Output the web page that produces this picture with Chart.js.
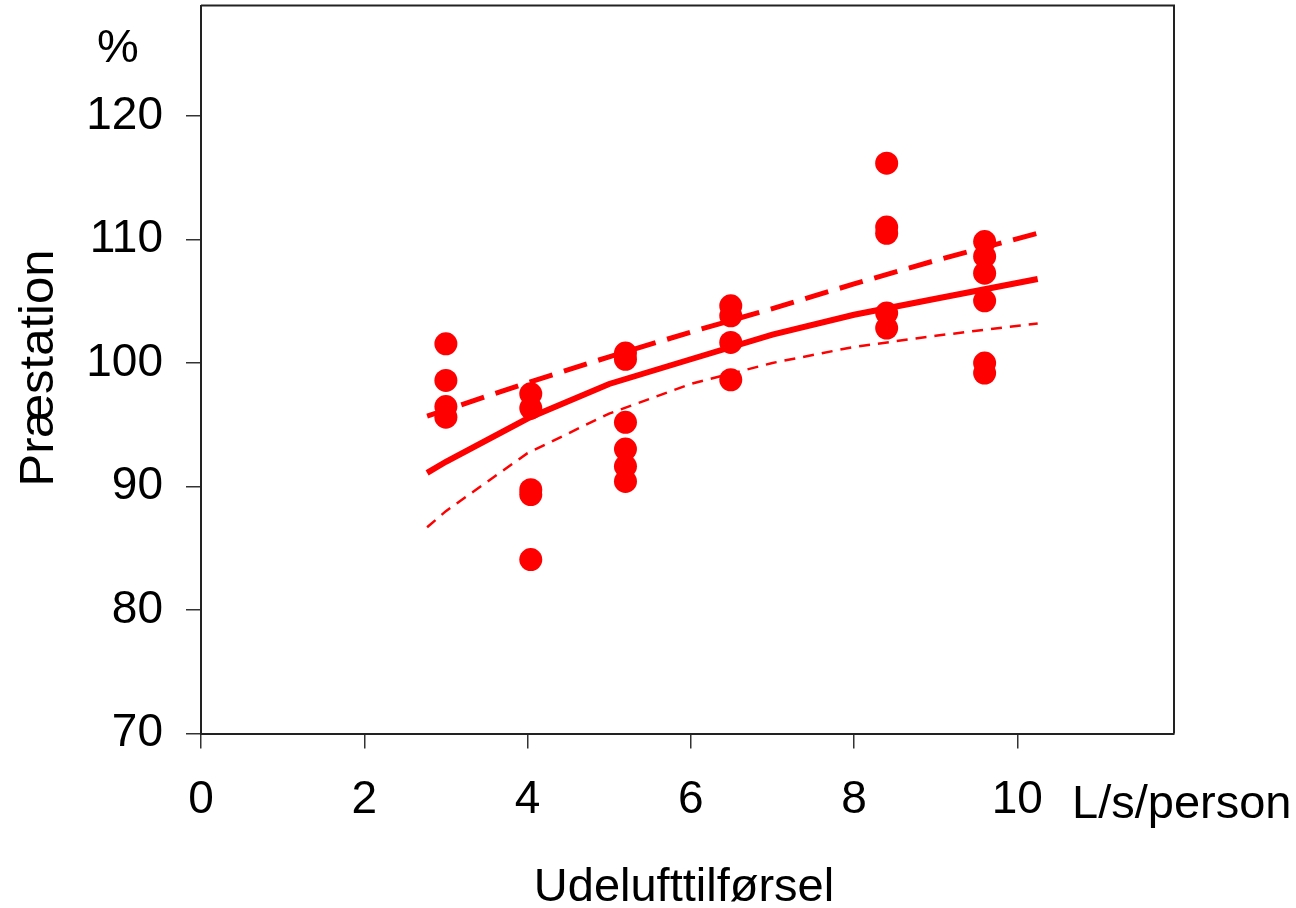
<!DOCTYPE html>
<html>
<head>
<meta charset="utf-8">
<script src="https://cdn.jsdelivr.net/npm/chart.js@4/dist/chart.umd.min.js"></script>
<style>
    html, body { margin: 0; padding: 0; background: #fff; }
    #wrap { width: 1296px; height: 908px; }
</style>
</head>
<body>
<div id="wrap"><canvas id="chart" width="1296" height="908"></canvas></div>
<script>
// measured points: airflow level (L/s/person) and performance (%) per level
const airflow = [3.0, 4.04, 5.2, 6.49, 8.4, 9.6]
const performance = [
    [101.55, 98.58, 96.47, 95.61],
    [97.5, 96.35, 89.74, 89.34, 84.08],
    [100.8, 100.3, 95.19, 93.03, 91.63, 90.41],
    [104.63, 103.82, 101.66, 98.64],
    [116.17, 111.0, 110.5, 104.04, 102.82],
    [109.83, 108.62, 107.27, 105.03, 99.99, 99.18]
]

// fitted curve and its bands
const fitX = [2.77, 3, 4, 5, 6, 7, 8, 9, 10.25]
const fitMean = [91.1, 92.0, 95.5, 98.3, 100.3, 102.3, 103.9, 105.2, 106.8]
const fitUpper = [95.7, 96.2, 98.4, 100.5, 102.5, 104.4, 106.4, 108.3, 110.5]
const fitLower = [86.7, 88.0, 92.7, 95.9, 98.3, 100.0, 101.3, 102.2, 103.2]

const xTicks = [0, 2, 4, 6, 8, 10]
const yTicks = [70, 80, 90, 100, 110, 120]

const red = '#ff0000'
const font = '"Liberation Sans", Arial, sans-serif'

const points = []
airflow.forEach((x, i) => performance[i].forEach(y => points.push({x, y})))
const toXY = ys => fitX.map((x, i) => ({x, y: ys[i]}))

const frame = {
    id: 'frame',
    afterDraw(chart) {
        const {ctx, chartArea: a} = chart
        ctx.save()
        ctx.strokeStyle = '#222'
        ctx.lineWidth = 2
        ctx.beginPath()
        ctx.moveTo(a.left, a.top)
        ctx.lineTo(a.right, a.top)
        ctx.lineTo(a.right, a.bottom)
        ctx.stroke()

        ctx.fillStyle = '#000'
        ctx.font = '47px ' + font
        ctx.textBaseline = 'alphabetic'
        ctx.textAlign = 'center'
        ctx.fillText('%', 118, 62)
        ctx.fillText('Udelufttilførsel', 684, 901)
        ctx.textAlign = 'left'
        ctx.fillText('L/s/person', 1072, 818)

        ctx.font = '49px ' + font
        ctx.translate(53, 368)
        ctx.rotate(-Math.PI / 2)
        ctx.textAlign = 'center'
        ctx.fillText('Præstation', 0, 0)
        ctx.restore()
    }
}

new Chart(document.getElementById('chart'), {
    type: 'scatter',
    data: {
        datasets: [
            {data: points, backgroundColor: red, borderWidth: 0, pointRadius: 11.5, pointHoverRadius: 11.5},
            {data: toXY(fitMean), showLine: true, borderColor: red, borderWidth: 6, pointRadius: 0},
            {data: toXY(fitUpper), showLine: true, borderColor: red, borderWidth: 5, borderDash: [24, 12], pointRadius: 0},
            {data: toXY(fitLower), showLine: true, borderColor: red, borderWidth: 2.5, borderDash: [11, 8], pointRadius: 0}
        ]
    },
    options: {
        responsive: false,
        animation: false,
        layout: {autoPadding: false, padding: {left: 0, right: 122, top: 5.5, bottom: 0}},
        plugins: {legend: {display: false}, tooltip: {enabled: false}},
        scales: {
            x: {
                type: 'linear',
                min: 0,
                max: 11.92,
                afterBuildTicks: s => { s.ticks = xTicks.map(v => ({value: v})) },
                afterFit: s => { s.height = 174.5; s.paddingLeft = 0; s.paddingRight = 0 },
                border: {display: true, color: '#222', width: 2},
                grid: {drawOnChartArea: false, drawTicks: true, tickLength: 15, color: '#333', lineWidth: 1.5},
                ticks: {color: '#000', font: {family: font, size: 46}, padding: 24, maxRotation: 0}
            },
            y: {
                min: 70,
                max: 128.94,
                afterBuildTicks: s => { s.ticks = yTicks.map(v => ({value: v})) },
                afterFit: s => { s.width = 201; s.paddingTop = 0; s.paddingBottom = 0 },
                border: {display: true, color: '#222', width: 2},
                grid: {drawOnChartArea: false, drawTicks: true, tickLength: 15, color: '#333', lineWidth: 1.5},
                ticks: {color: '#000', font: {family: font, size: 46}, padding: 23}
            }
        }
    },
    plugins: [frame]
})
</script>
</body>
</html>
